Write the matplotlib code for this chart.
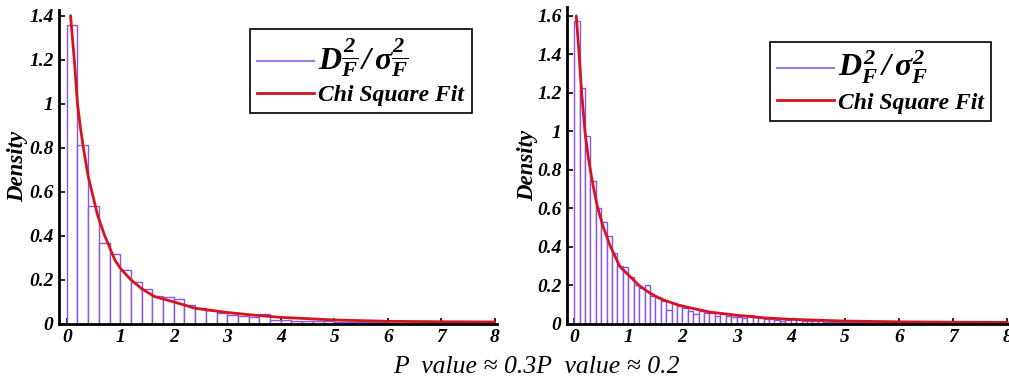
import matplotlib
matplotlib.use("Agg")
import matplotlib.pyplot as plt
from matplotlib.lines import Line2D
import numpy as np

# ---------------- data ----------------
left_bin_width = 0.2
left_heights = [1.358, 0.813, 0.537, 0.369, 0.318, 0.244, 0.192, 0.160, 0.127, 0.124,
                0.112, 0.088, 0.071, 0.062, 0.050, 0.042, 0.035, 0.030, 0.044, 0.020,
                0.018, 0.015, 0.014, 0.013, 0.012, 0.010, 0.010, 0.008, 0.008, 0.007,
                0.006, 0.006, 0.005, 0.005, 0.005, 0.004, 0.004, 0.004, 0.003, 0.003]
left_fit_x = [0.07, 0.14, 0.20, 0.25, 0.31, 0.40, 0.47, 0.58, 0.71, 0.90, 1.00, 1.20,
              1.40, 1.64, 2.00, 2.40, 3.00, 3.50, 4.00, 5.00, 6.00, 7.00, 8.00]
left_fit_y = [1.40, 1.20, 1.00, 0.90, 0.80, 0.67, 0.60, 0.49, 0.40, 0.29, 0.253, 0.20,
              0.16, 0.124, 0.100, 0.071, 0.052, 0.040, 0.030, 0.018, 0.012, 0.010, 0.009]

right_bin_width = 0.1
right_heights = [1.574, 1.224, 0.978, 0.745, 0.600, 0.527, 0.456, 0.370, 0.300, 0.294,
                 0.245, 0.202, 0.185, 0.200, 0.145, 0.142, 0.120, 0.072, 0.109, 0.092,
                 0.082, 0.066, 0.053, 0.067, 0.059, 0.055, 0.040, 0.050, 0.043, 0.038,
                 0.035, 0.033, 0.045, 0.036, 0.030, 0.025, 0.025, 0.020, 0.016, 0.020,
                 0.033, 0.020, 0.015, 0.015, 0.014, 0.013, 0.012, 0.012, 0.011, 0.011,
                 0.010, 0.010, 0.009, 0.009, 0.009, 0.008, 0.008, 0.008, 0.007, 0.007,
                 0.007, 0.007, 0.006, 0.006, 0.006, 0.006, 0.005, 0.005, 0.005, 0.005,
                 0.005, 0.005, 0.004, 0.004, 0.004, 0.004, 0.004, 0.004, 0.004, 0.004]
right_fit_x = [0.04, 0.09, 0.14, 0.20, 0.26, 0.30, 0.35, 0.43, 0.53, 0.66, 0.84, 1.00,
               1.20, 1.40, 1.60, 1.90, 2.20, 2.50, 3.00, 3.50, 4.00, 5.00, 6.00, 7.00, 8.00]
right_fit_y = [1.60, 1.41, 1.20, 1.00, 0.87, 0.80, 0.72, 0.61, 0.51, 0.41, 0.30, 0.255,
               0.20, 0.16, 0.13, 0.10, 0.08, 0.062, 0.045, 0.032, 0.024, 0.015, 0.011, 0.009, 0.008]

left_yticks = [0, 0.2, 0.4, 0.6, 0.8, 1.0, 1.2, 1.4]
left_yticklabels = ["0", "0.2", "0.4", "0.6", "0.8", "1", "1.2", "1.4"]
right_yticks = [0, 0.2, 0.4, 0.6, 0.8, 1.0, 1.2, 1.4, 1.6]
right_yticklabels = ["0", "0.2", "0.4", "0.6", "0.8", "1", "1.2", "1.4", "1.6"]
xticks = [0, 1, 2, 3, 4, 5, 6, 7, 8]
xticklabels = ["0", "1", "2", "3", "4", "5", "6", "7", "8"]

left_label = r"$D^2_{\overline{F}}\,/\,\sigma^2_{\overline{F}}$"
right_label = r"$D^2_{F}\,/\,\sigma^2_{F}$"
fit_label = "Chi Square Fit"
ylabel = "Density"
caption = "P  value \u2248 0.3P  value \u2248 0.2"

# ---------------- style ----------------
plt.rcParams['font.family'] = ['Liberation Serif', 'DejaVu Serif']
plt.rcParams['mathtext.fontset'] = 'custom'
plt.rcParams['mathtext.rm'] = 'Liberation Serif:bold:italic'
plt.rcParams['mathtext.it'] = 'Liberation Serif:bold:italic'
plt.rcParams['mathtext.bf'] = 'Liberation Serif:bold:italic'

PURPLE = '#8a55e0'
RED = '#d4141e'
tickfont = dict(family='Liberation Serif', weight='bold', style='italic', size=14)

fig = plt.figure(figsize=(10.09, 3.82), dpi=100)


def make_panel(rect, heights, bw, fx, fy, ylim_top, yticks, yticklabels, xlim, label,
               leg_anchor, label_x):
    ax = fig.add_axes(rect)
    edges = np.arange(len(heights)) * bw
    ax.bar(edges, heights, width=bw, align='edge', facecolor='white',
           edgecolor=PURPLE, linewidth=1.0, zorder=2)
    ax.plot(fx, fy, color=RED, lw=2.0, zorder=3, solid_capstyle='round')
    ax.set_xlim(*xlim)
    ax.set_ylim(0, ylim_top)
    for s in ['top', 'right']:
        ax.spines[s].set_visible(False)
    for s in ['left', 'bottom']:
        ax.spines[s].set_linewidth(2.0)
        ax.spines[s].set_zorder(4)
    ax.set_yticks(yticks)
    ax.set_yticklabels(yticklabels, fontdict=tickfont)
    ax.set_xticks(xticks)
    ax.set_xticklabels(xticklabels, fontdict=tickfont)
    ax.tick_params(direction='in', length=4, width=1.2, pad=4)
    ax.set_ylabel(ylabel, fontsize=16.5, fontweight='bold', fontstyle='italic')
    ax.yaxis.set_label_coords(label_x, 0.5)
    handles = [Line2D([0], [0], color='#a07ee6', lw=1.5),
               Line2D([0], [0], color=RED, lw=2.0)]
    leg = ax.legend(handles, [label, fit_label], loc='upper left',
                    bbox_to_anchor=leg_anchor, borderaxespad=0, fancybox=False,
                    edgecolor='black', framealpha=1, handlelength=2.4,
                    handletextpad=0.2, borderpad=0.3, labelspacing=0.25,
                    prop=dict(family='Liberation Serif', weight='bold', style='italic', size=17))
    leg.get_frame().set_linewidth(1.2)
    leg.get_texts()[0].set_fontsize(23)
    return ax


make_panel([0.0585, 0.152, 0.434, 0.822], left_heights, left_bin_width,
           left_fit_x, left_fit_y, 1.426, left_yticks, left_yticklabels,
           (-0.145, 8.04), left_label, (0.436, 0.94), -0.07)
make_panel([0.562, 0.152, 0.438, 0.830], right_heights, right_bin_width,
           right_fit_x, right_fit_y, 1.647, right_yticks, right_yticklabels,
           (-0.13, 8.03), right_label, (0.459, 0.89), -0.066)

fig.text(0.532, 0.04, caption, ha='center', va='center', fontsize=18.5,
         fontstyle='italic', family='Liberation Serif')

fig.savefig('out.png', dpi=100)
